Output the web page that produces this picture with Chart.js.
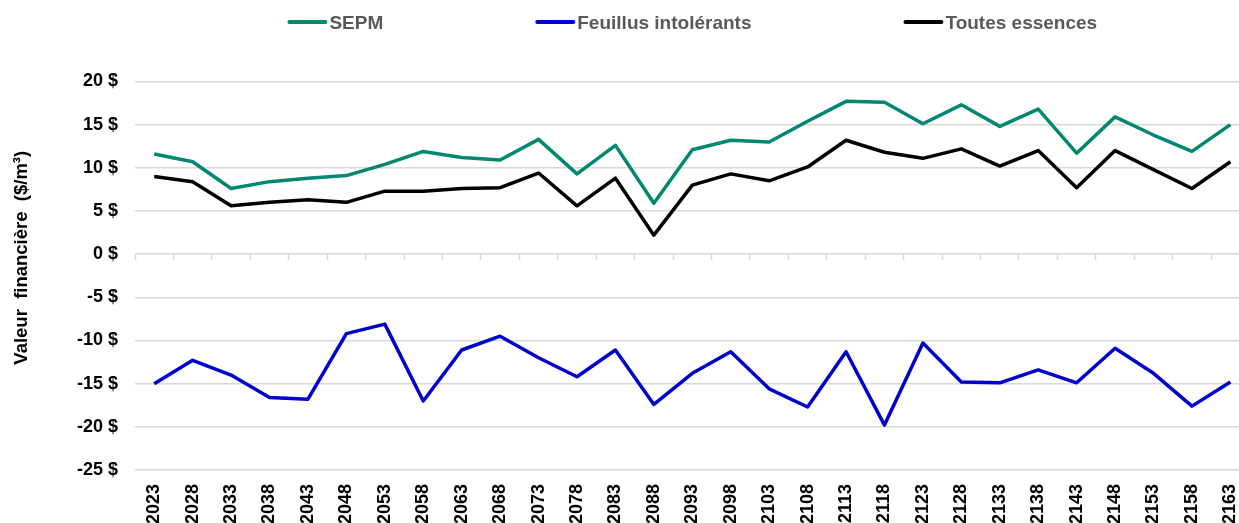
<!DOCTYPE html>
<html>
<head>
<meta charset="utf-8">
<script src="https://cdn.jsdelivr.net/npm/chart.js@4/dist/chart.umd.min.js"></script>
<style>
  html, body { margin: 0; padding: 0; background: #fff; overflow: hidden; }
  canvas { display: block; }
</style>
</head>
<body>
<canvas id="valeurChart" width="1258" height="523"></canvas>
<script>
// -----------------------------
// Data
// -----------------------------
const years = [
  "2023", "2028", "2033", "2038", "2043", "2048", "2053", "2058", "2063", "2068",
  "2073", "2078", "2083", "2088", "2093", "2098", "2103", "2108", "2113", "2118",
  "2123", "2128", "2133", "2138", "2143", "2148", "2153", "2158", "2163"
];

const sepm = [
  11.6, 10.7, 7.6, 8.4, 8.8, 9.1, 10.4, 11.9, 11.2, 10.9,
  13.3, 9.3, 12.6, 5.9, 12.1, 13.2, 13.0, 15.4, 17.7, 17.6,
  15.1, 17.3, 14.8, 16.8, 11.7, 15.9, 13.8, 11.9, 15.0
];

const feuillus = [
  -15.0, -12.3, -14.0, -16.6, -16.8, -9.2, -8.1, -17.0, -11.1, -9.5,
  -12.0, -14.2, -11.1, -17.4, -13.8, -11.3, -15.6, -17.7, -11.3, -19.8,
  -10.3, -14.8, -14.9, -13.4, -14.9, -10.9, -13.8, -17.6, -14.8
];

const toutes = [
  9.0, 8.4, 5.6, 6.0, 6.3, 6.0, 7.3, 7.3, 7.6, 7.7,
  9.4, 5.6, 8.8, 2.2, 8.0, 9.3, 8.5, 10.1, 13.2, 11.8,
  11.1, 12.2, 10.2, 12.0, 7.7, 12.0, 9.8, 7.6, 10.7
];

const seriesNames = ["SEPM", "Feuillus intolérants", "Toutes essences"];
const seriesColors = ["#00876F", "#0000CC", "#000000"];

const yMin = -25;
const yMax = 20;
const yStep = 5;

const FONT = "'Liberation Sans', Arial, sans-serif";
const GRID = "#d9d9d9";


// -----------------------------
// Legend drawn on top of the chart
// -----------------------------
const topLegend = {
  id: "topLegend",
  afterDraw(chart) {
    const ctx = chart.ctx;
    const area = chart.chartArea;
    const lineLen = 40;
    const gap = 152;
    const y = 24;

    ctx.save();
    ctx.font = "bold 19px " + FONT;

    const items = chart.data.datasets.map(ds => ({
      text: ds.label,
      color: ds.borderColor,
      w: lineLen + 2 + ctx.measureText(ds.label).width
    }));

    let total = items.reduce((s, it) => s + it.w, 0) + gap * (items.length - 1);
    let x = (area.left + area.right) / 2 - total / 2;

    items.forEach(it => {
      ctx.strokeStyle = it.color;
      ctx.lineWidth = 4;
      ctx.lineCap = "round";
      ctx.beginPath();
      ctx.moveTo(x + 2, y - 2);
      ctx.lineTo(x + lineLen - 2, y - 2);
      ctx.stroke();

      ctx.fillStyle = "#595959";
      ctx.textAlign = "left";
      ctx.textBaseline = "middle";
      ctx.fillText(it.text, x + lineLen + 2, y);

      x += it.w + gap;
    });

    ctx.restore();
  }
};


// -----------------------------
// Chart
// -----------------------------
const seriesData = [sepm, feuillus, toutes];

new Chart(document.getElementById("valeurChart"), {
  type: "line",
  data: {
    labels: years,
    datasets: seriesData.map((d, i) => ({
      label: seriesNames[i],
      data: d,
      borderColor: seriesColors[i],
      backgroundColor: seriesColors[i],
      borderWidth: 3.5,
      pointRadius: 0,
      tension: 0,
      borderJoinStyle: "round",
      fill: false,
      xAxisID: "x"
    }))
  },
  options: {
    responsive: false,
    animation: false,
    devicePixelRatio: 1,
    layout: { padding: { top: 81.5, right: 1, left: 0, bottom: 0 } },
    plugins: {
      legend: { display: false },
      tooltip: { enabled: false }
    },
    scales: {
      x: {
        type: "category",
        position: "bottom",
        offset: true,
        grid: { display: false, offset: true },
        border: { display: false },
        ticks: {
          autoSkip: false,
          minRotation: 90,
          maxRotation: 90,
          padding: 6,
          color: "#000",
          font: { family: FONT, size: 18, weight: "bold" }
        },
        afterFit(scale) { scale.height = 53; }
      },
      // tick marks along the zero line
      xZero: {
        type: "category",
        position: { y: 0 },
        offset: true,
        grid: {
          offset: true,
          drawOnChartArea: false,
          drawTicks: true,
          tickLength: 6,
          tickWidth: 1.5,
          tickColor: GRID
        },
        border: { display: false },
        ticks: { display: false }
      },
      y: {
        min: yMin,
        max: yMax,
        ticks: {
          stepSize: yStep,
          padding: 17,
          color: "#000",
          font: { family: FONT, size: 18, weight: "bold" },
          callback: v => v + " $"
        },
        grid: { color: GRID, lineWidth: 1.5, drawTicks: false },
        border: { display: false },
        title: {
          display: true,
          text: "       Valeur  financière  ($/m³)",
          color: "#000",
          padding: { top: 11, bottom: 0 },
          font: { family: FONT, size: 18.5, weight: "bold" }
        },
        afterFit(scale) { scale.width = 135; }
      }
    }
  },
  plugins: [topLegend]
});
</script>
</body>
</html>
